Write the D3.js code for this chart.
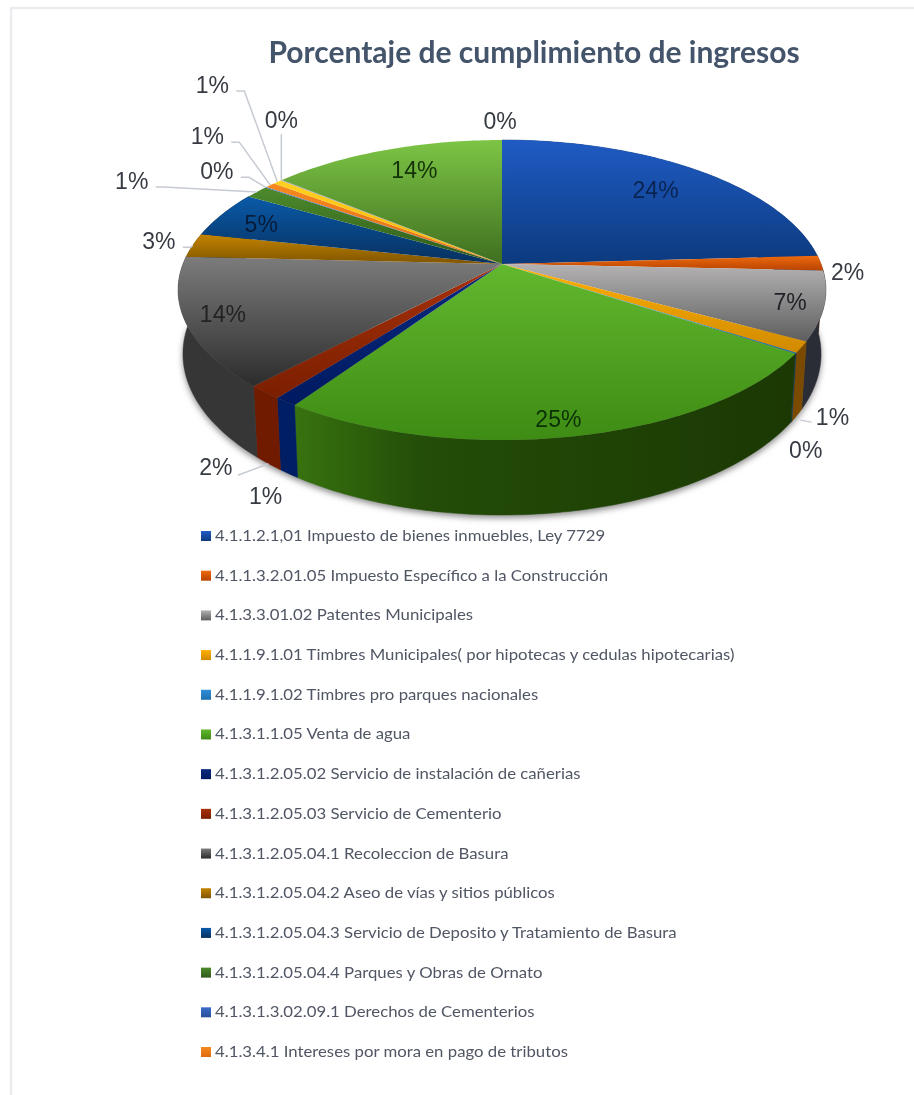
<!DOCTYPE html>
<html>
<head>
<meta charset="utf-8">
<script src="https://cdn.jsdelivr.net/npm/d3@7"></script>
<style>
  html, body { margin: 0; padding: 0; background: #fff; }
  svg { display: block; filter: blur(0.7px); }
</style>
</head>
<body>
<script>
// valores, en sentido horario desde arriba
const values = [24.1, 1.6, 7.4, 1.2, 0.1, 25.0, 1.0, 1.5, 13.9, 2.6, 5.0, 1.4, 0.1, 0.6, 0.5, 0.1, 13.9, 0];

const legendLabels = [
  "4.1.1.2.1,01 Impuesto de bienes inmuebles, Ley 7729",
  "4.1.1.3.2.01.05 Impuesto Específico a la Construcción",
  "4.1.3.3.01.02 Patentes Municipales",
  "4.1.1.9.1.01 Timbres Municipales( por hipotecas y cedulas hipotecarias)",
  "4.1.1.9.1.02 Timbres pro parques nacionales",
  "4.1.3.1.1.05 Venta de agua",
  "4.1.3.1.2.05.02 Servicio de instalación de cañerias",
  "4.1.3.1.2.05.03 Servicio de Cementerio",
  "4.1.3.1.2.05.04.1 Recoleccion de Basura",
  "4.1.3.1.2.05.04.2 Aseo de vías y sitios públicos",
  "4.1.3.1.2.05.04.3 Servicio de Deposito y Tratamiento de Basura",
  "4.1.3.1.2.05.04.4 Parques y Obras de Ornato",
  "4.1.3.1.3.02.09.1 Derechos de Cementerios",
  "4.1.3.4.1 Intereses por mora en pago de tributos"
];

// colores de cada porcion: cara superior (claro, oscuro) y pared
const topLight = ["#1f5bc4", "#ee6a10", "#b4b2b2", "#ffb000", "#2e8fd8", "#62b82e", "#0a2a80", "#a8300a", "#7c7c7c", "#c48400", "#0a5aa8", "#4c8a2c", "#3b6cc8", "#f58a1f", "#ffd21f", "#aaaaaa", "#7dc545", "#7dc545"];
const topDark = ["#0c3a7e", "#b84300", "#5e5e5e", "#d08a00", "#1d6fb0", "#3e8c14", "#001a60", "#7a1f00", "#2c2c2c", "#7f5500", "#07305e", "#2f5a18", "#2a4f98", "#e06a10", "#f5b000", "#888888", "#3f6e20", "#3f6e20"];
const wallColor = ["#0c3a7e", "#8a3300", "#2b2d36", "#7a4a00", "#123a5a", "url(#wallGreen)", "#001e63", "#701a00", "#363636", "#7f5500", "#07305e", "#2f5a18", "#2a4f98", "#e06a10", "#f5b000", "#888888", "#3f6e20", "#3f6e20"];

// posicion de cada etiqueta respecto al borde de su porcion
const labelDx = [-41, 27, -34, 31, 10, -18, -20, -49, 37, -34, 39, -125, -49, -63, -65, 0, 29, -2];
const labelDy = [20, 9, -4, 70, 97, -17, 94, 75, -9, -4, 10, -11, -16, -49, -97, -60, 20, -19];
const leaderSide = [null, null, null, "left", null, null, null, "low", null, "right", null, "right", "right", "right", "right", "below", null, null];
const innerLabelColor = ["#0a2452", null, "#212128", null, null, "#0c3006", null, null, "#222222", null, "#071c3c", null, null, null, null, null, "#143208", null];

const WIDTH = 914, HEIGHT = 1095;
const cx = 502, cy = 264;
const rx = 319, ry = 145.5, persp = 0.1733, depth = 62;

const svg = d3.select("body").append("svg")
  .attr("width", WIDTH)
  .attr("height", HEIGHT);

const defs = svg.append("defs");

defs.append("filter").attr("id", "soft")
  .attr("x", "-10%").attr("y", "-10%").attr("width", "120%").attr("height", "120%")
  .append("feGaussianBlur").attr("stdDeviation", 3);

const wallGrad = defs.append("linearGradient").attr("id", "wallGreen")
  .attr("gradientUnits", "userSpaceOnUse")
  .attr("x1", 295).attr("x2", 800).attr("y1", 0).attr("y2", 0);
wallGrad.append("stop").attr("offset", 0).attr("stop-color", "#38730f");
wallGrad.append("stop").attr("offset", 0.25).attr("stop-color", "#234d08");
wallGrad.append("stop").attr("offset", 1).attr("stop-color", "#1b3803");

values.forEach((v, i) => {
  const g = defs.append("linearGradient").attr("id", "top" + i)
    .attr("x1", 0).attr("x2", 0).attr("y1", 0).attr("y2", 1);
  g.append("stop").attr("offset", 0).attr("stop-color", topLight[i]);
  g.append("stop").attr("offset", 1).attr("stop-color", topDark[i]);
});

// marco de la pagina
svg.append("path")
  .attr("d", d3.line()([[11, HEIGHT], [11, 8], [WIDTH, 8]]))
  .attr("fill", "none")
  .attr("stroke", "#ebebf0")
  .attr("stroke-width", 2.5);

svg.append("text")
  .attr("x", 534)
  .attr("y", 63)
  .attr("text-anchor", "middle")
  .attr("font-family", "Lato")
  .attr("font-weight", 700)
  .attr("font-size", 30)
  .attr("fill", "#44546a")
  .text("Porcentaje de cumplimiento de ingresos");

// circulo en perspectiva: el centro no cae en el centro de la elipse
function project(deg, drop) {
  const a = deg * Math.PI / 180;
  const w = 1 / (1 + persp * Math.cos(a));
  const shrink = drop ? 0.985 : 1;
  return [
    cx + rx * shrink * Math.sin(a) * w,
    cy - ry * Math.cos(a) * w + (drop ? depth * w : 0)
  ];
}

const arcs = d3.pie().sort(null).value(d => d)(values).map(d => ({
  start: d.startAngle * 180 / Math.PI,
  end: d.endAngle * 180 / Math.PI,
  mid: (d.startAngle + d.endAngle) * 90 / Math.PI
}));

function rim(start, end, drop) {
  const n = Math.max(1, Math.ceil(end - start));
  return d3.range(n + 1).map(k => project(start + (end - start) * k / n, drop));
}

const line = d3.line();

// sombra bajo la pieza
svg.append("path")
  .attr("d", line(rim(90, 270, true).map(p => [p[0], p[1] + 3])))
  .attr("fill", "#8a8a8a")
  .attr("filter", "url(#soft)");

// paredes
svg.selectAll("path.wall")
  .data(arcs)
  .enter().append("path")
  .attr("class", "wall")
  .attr("d", d => line(rim(d.start, d.end, false).concat(rim(d.start, d.end, true).reverse())) + "Z")
  .attr("fill", (d, i) => wallColor[i])
  .attr("stroke", (d, i) => wallColor[i])
  .attr("stroke-width", 0.5)
  .attr("display", d => (d.end > 70 && d.start < 290) ? null : "none");

// cara superior
svg.selectAll("path.slice")
  .data(arcs)
  .enter().append("path")
  .attr("class", "slice")
  .attr("d", d => line([[cx, cy]].concat(rim(d.start, d.end, false))) + "Z")
  .attr("fill", (d, i) => "url(#top" + i + ")")
  .attr("display", d => d.end > d.start ? null : "none");

// lineas guia y etiquetas
arcs.forEach((d, i) => {
  const p = project(d.mid, false);
  const lx = p[0] + labelDx[i], ly = p[1] + labelDy[i];
  const side = leaderSide[i];
  if (side) {
    let pts;
    if (side === "right") pts = [[lx + 24, ly + 6], [lx + 32, ly + 6], p];
    if (side === "left") pts = [[lx - 21, ly + 5], [lx - 32, ly + 3]];
    if (side === "below") pts = [[lx, ly + 14], p];
    if (side === "low") pts = [[lx + 22, ly + 8], project(d.mid, true)];
    svg.append("path")
      .attr("d", line(pts))
      .attr("fill", "none")
      .attr("stroke", "#c6cad3")
      .attr("stroke-width", 1.5);
  }
  svg.append("text")
    .attr("x", lx)
    .attr("y", ly + 8)
    .attr("text-anchor", "middle")
    .attr("font-family", "Liberation Sans")
    .attr("font-size", 23)
    .attr("fill", innerLabelColor[i] || "#363a42")
    .text(Math.round(values[i]) + "%");
});

// leyenda
const legendY = d3.scalePoint().domain(legendLabels).range([536, 1052]);

const legend = svg.selectAll("g.legend")
  .data(legendLabels)
  .enter().append("g")
  .attr("class", "legend")
  .attr("transform", d => "translate(201," + legendY(d) + ")");

legend.append("rect")
  .attr("x", 0)
  .attr("y", -5)
  .attr("width", 10)
  .attr("height", 10)
  .attr("fill", (d, i) => "url(#top" + i + ")");

// la fuente original es mas ancha que Lato a esta altura
legend.append("text")
  .attr("transform", "translate(14,5) scale(1.118,1)")
  .attr("font-family", "Lato")
  .attr("font-size", 15)
  .attr("fill", "#505664")
  .text(d => d);
</script>
</body>
</html>
